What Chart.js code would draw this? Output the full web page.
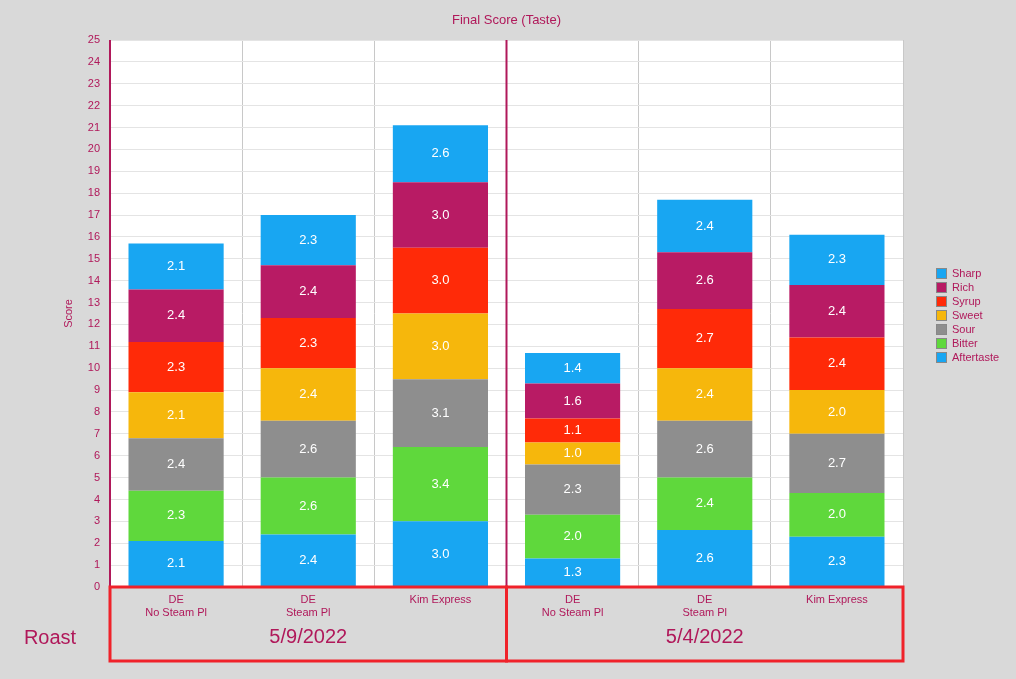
<!DOCTYPE html>
<html><head>
<script src="https://cdn.jsdelivr.net/npm/chart.js@4"></script>
<style>
body{margin:0;background:#d9d9d9;font-family:"Helvetica Neue",Arial,"Liberation Sans",sans-serif}
#wrap{position:relative;width:1016px;height:679px}
#legend{position:absolute;left:936px;top:266px;font-size:11px;color:#b0185a;line-height:14px}
#legend div{display:flex;align-items:center}
#legend span{display:inline-block;width:9px;height:9px;margin-right:5px;border:1px solid #888}
</style></head>
<body><div id="wrap"><canvas id="c" width="1016" height="679"></canvas><div id="legend"></div></div>
<script>
const categories = [['DE','No Steam Pl'],['DE','Steam Pl'],'Kim Express',['DE','No Steam Pl'],['DE','Steam Pl'],'Kim Express'];
const groups = ['5/9/2022','5/4/2022'];
const aftertaste = [2.1,2.4,3.0,1.3,2.6,2.3];
const bitter     = [2.3,2.6,3.4,2.0,2.4,2.0];
const sour       = [2.4,2.6,3.1,2.3,2.6,2.7];
const sweet      = [2.1,2.4,3.0,1.0,2.4,2.0];
const syrup      = [2.3,2.3,3.0,1.1,2.7,2.4];
const rich       = [2.4,2.4,3.0,1.6,2.6,2.4];
const sharp      = [2.1,2.3,2.6,1.4,2.4,2.3];
const yTicks = [0,25,1];

const crimson = '#b0185a';
const series = [
  ['Aftertaste', aftertaste, '#18a6f2'],
  ['Bitter', bitter, '#5fd83c'],
  ['Sour', sour, '#8e8e8e'],
  ['Sweet', sweet, '#f6b70c'],
  ['Syrup', syrup, '#ff2a08'],
  ['Rich', rich, '#b81b64'],
  ['Sharp', sharp, '#18a6f2']
];

const lg = document.getElementById('legend');
series.slice().reverse().forEach(s => {
  lg.innerHTML += `<div><span style="background:${s[2]}"></span>${s[0]}</div>`;
});

const decor = {
  id: 'decor',
  afterDatasetsDraw(chart) {
    const ctx = chart.ctx, x = chart.scales.x, y = chart.scales.y;
    // value labels
    ctx.save();
    ctx.font = '13px "Helvetica Neue", Arial, sans-serif';
    ctx.fillStyle = '#fff';
    ctx.textAlign = 'center';
    ctx.textBaseline = 'middle';
    chart.data.datasets.forEach((ds, i) => {
      chart.getDatasetMeta(i).data.forEach((bar, j) => {
        ctx.fillText(ds.data[j].toFixed(1), bar.x, (bar.y + bar.base) / 2);
      });
    });
    ctx.restore();
  },
  afterDraw(chart) {
    const ctx = chart.ctx, x = chart.scales.x, y = chart.scales.y;
    const a = chart.chartArea;
    const mid = (x.getPixelForValue(2) + x.getPixelForValue(3)) / 2;
    ctx.save();
    ctx.strokeStyle = crimson; ctx.lineWidth = 2;
    ctx.beginPath(); ctx.moveTo(a.left, a.top); ctx.lineTo(a.left, a.bottom);
    ctx.moveTo(mid, a.top); ctx.lineTo(mid, a.bottom); ctx.stroke();
    ctx.strokeStyle = '#f0222a'; ctx.lineWidth = 3;
    ctx.strokeRect(a.left, a.bottom, mid - a.left, 74);
    ctx.strokeRect(mid, a.bottom, a.right - mid, 74);
    ctx.fillStyle = crimson; ctx.textAlign = 'center'; ctx.textBaseline = 'middle';
    ctx.font = '20px "Helvetica Neue", Arial, sans-serif';
    ctx.fillText(groups[0], (a.left + mid) / 2, a.bottom + 50);
    ctx.fillText(groups[1], (mid + a.right) / 2, a.bottom + 50);
    ctx.fillText('Roast', 50, a.bottom + 51);
    ctx.font = '13px "Helvetica Neue", Arial, sans-serif';
    ctx.fillText('Final Score (Taste)', (a.left + a.right) / 2, 20);
    ctx.font = '11px "Helvetica Neue", Arial, sans-serif';
    ctx.translate(69, (a.top + a.bottom) / 2); ctx.rotate(-Math.PI / 2);
    ctx.fillText('Score', 0, 0);
    ctx.restore();
  }
};

new Chart(document.getElementById('c'), {
  type: 'bar',
  data: {
    labels: categories,
    datasets: series.map(s => ({
      label: s[0], data: s[1], backgroundColor: s[2],
      barPercentage: 0.72, categoryPercentage: 1
    }))
  },
  options: {
    responsive: false,
    animation: false,
    layout: { padding: { top: 40, right: 113, left: 0, bottom: 0 } },
    plugins: { legend: { display: false }, tooltip: { enabled: false } },
    scales: {
      x: {
        stacked: true,
        grid: { color: '#c8c8c8', offset: true, drawTicks: false },
        border: { display: false },
        ticks: { color: crimson, font: { size: 11 }, padding: 6, maxRotation: 0 },
        afterFit: s => { s.height = 92; }
      },
      y: {
        stacked: true, min: yTicks[0], max: yTicks[1],
        grid: { color: '#e4e4e4', drawTicks: false },
        border: { display: false },
        ticks: { stepSize: yTicks[2], color: crimson, font: { size: 11 }, padding: 10 },
        afterFit: s => { s.width = 110; }
      }
    }
  },
  plugins: [decor, {
    id: 'bg',
    beforeDraw(chart) {
      const a = chart.chartArea, ctx = chart.ctx;
      ctx.fillStyle = '#fff';
      ctx.fillRect(a.left, a.top, a.right - a.left, a.bottom - a.top);
    }
  }]
});
</script></body></html>
